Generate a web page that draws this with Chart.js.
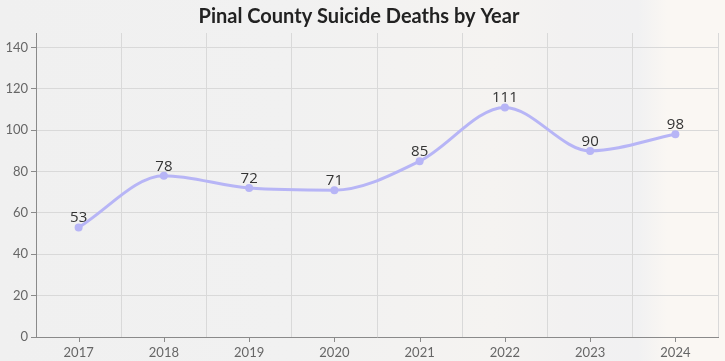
<!DOCTYPE html>
<html>
<head>
<meta charset="utf-8">
<script src="https://cdn.jsdelivr.net/npm/chart.js@4/dist/chart.umd.min.js"></script>
<style>
  html, body { margin: 0; padding: 0; }
  body {
    width: 725px; height: 361px; overflow: hidden;
    background: linear-gradient(90deg, #f0f0f0 0%, #f1f1f1 40%, #f3f2f1 55%, #f5f3f1 68%, #f2f1f1 78%, #f1f1f2 88%, #faf7f3 92%, #faf7f3 100%);
  }
  canvas { display: block; }
</style>
</head>
<body>
<canvas id="c" width="725" height="361"></canvas>
<script>
const categories = ['2017', '2018', '2019', '2020', '2021', '2022', '2023', '2024'];
const deaths = [53, 78, 72, 71, 85, 111, 90, 98];
const yTickValues = [0, 20, 40, 60, 80, 100, 120, 140];
const chartTitle = 'Pinal County Suicide Deaths by Year';

const lineColor = '#b7b5f6';

const xTickMarks = {
  id: 'xTickMarks',
  afterDraw(chart) {
    const x = chart.scales.x, ctx = chart.ctx;
    ctx.save();
    ctx.strokeStyle = '#8a8a8a';
    ctx.lineWidth = 1;
    x.ticks.forEach((t, i) => {
      const px = Math.round(x.getPixelForTick(i)) + 0.5;
      ctx.beginPath();
      ctx.moveTo(px, x.top);
      ctx.lineTo(px, x.top + 5);
      ctx.stroke();
    });
    ctx.restore();
  }
};

const valueLabels = {
  id: 'valueLabels',
  afterDatasetsDraw(chart) {
    const ctx = chart.ctx;
    const meta = chart.getDatasetMeta(0);
    ctx.save();
    ctx.font = '15px "Open Sans", sans-serif';
    ctx.fillStyle = '#333333';
    ctx.textAlign = 'center';
    ctx.textBaseline = 'alphabetic';
    meta.data.forEach((pt, i) => {
      ctx.fillText(String(chart.data.datasets[0].data[i]), pt.x, pt.y - 5);
    });
    ctx.restore();
  }
};

new Chart(document.getElementById('c'), {
  type: 'line',
  data: {
    labels: categories,
    datasets: [{
      data: deaths,
      borderColor: lineColor,
      backgroundColor: lineColor,
      borderWidth: 3,
      pointRadius: 4,
      pointHoverRadius: 4,
      pointBackgroundColor: lineColor,
      pointBorderWidth: 0,
      cubicInterpolationMode: 'monotone',
      fill: false
    }]
  },
  options: {
    responsive: false,
    animation: false,
    layout: { padding: { left: 0, right: 7, top: 0, bottom: 0 } },
    plugins: {
      legend: { display: false },
      tooltip: { enabled: false },
      title: {
        display: true,
        text: chartTitle,
        color: '#222222',
        font: { family: 'Lato', size: 20, weight: 'bold', lineHeight: 1.2 },
        padding: { top: 5, bottom: 4 }
      }
    },
    scales: {
      x: {
        offset: true,
        grid: { offset: true, drawTicks: false, color: '#d9d9d9', lineWidth: 1 },
        border: { color: '#8a8a8a', width: 1 },
        ticks: { color: '#666666', font: { family: 'Lato', size: 13 }, padding: 8, maxRotation: 0 },
        afterFit(s) { s.height = 24; }
      },
      y: {
        min: 0,
        max: 147,
        afterBuildTicks(s) { s.ticks = yTickValues.map(v => ({ value: v })); },
        ticks: { color: '#666666', font: { family: 'Lato', size: 13 }, padding: 3 },
        grid: { color: '#d9d9d9', tickColor: '#8a8a8a', tickLength: 5 },
        border: { color: '#8a8a8a', width: 1 },
        afterFit(s) { s.width = 36; }
      }
    }
  },
  plugins: [xTickMarks, valueLabels]
});
</script>
</body>
</html>
